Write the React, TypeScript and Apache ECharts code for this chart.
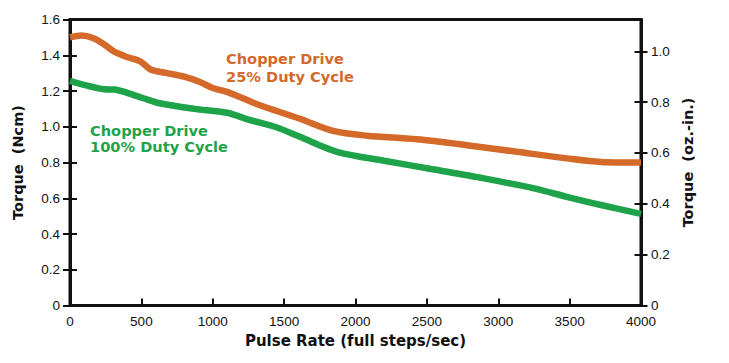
import React, { useEffect, useRef } from "react";
import * as echarts from "echarts";

const orangePulse = [0, 80, 165, 240, 310, 400, 495, 565, 680, 800, 910, 1005, 1100, 1240, 1330, 1610, 1850, 2080, 2430, 2780, 3130, 3480, 3720, 4000];
const orangeTorque = [1.5, 1.51, 1.495, 1.46, 1.42, 1.39, 1.365, 1.32, 1.3, 1.28, 1.25, 1.215, 1.195, 1.15, 1.12, 1.045, 0.975, 0.95, 0.93, 0.897, 0.86, 0.823, 0.803, 0.8];

const greenPulse = [0, 240, 310, 400, 520, 635, 870, 1100, 1250, 1450, 1610, 1870, 2200, 2550, 2900, 3250, 3480, 3720, 4000];
const greenTorque = [1.257, 1.21, 1.208, 1.19, 1.158, 1.13, 1.1, 1.078, 1.04, 0.996, 0.944, 0.86, 0.81, 0.761, 0.711, 0.655, 0.608, 0.562, 0.513];

const leftTicks = [0, 0.2, 0.4, 0.6, 0.8, 1.0, 1.2, 1.4, 1.6];
const rightTicks = [0, 0.2, 0.4, 0.6, 0.8, 1.0];
const xTicks = [0, 500, 1000, 1500, 2000, 2500, 3000, 3500, 4000];

const orangeLabel = ["Chopper Drive", "25% Duty Cycle"];
const greenLabel = ["Chopper Drive", "100% Duty Cycle"];

const ORANGE = "#d4692a";
const GREEN = "#1fa34a";
const AXIS = "#111111";
const TICK_FONT = "Liberation Sans, Arial, sans-serif";
const BOLD_FONT = "DejaVu Sans, sans-serif";

const fmt = (v: number) => (v === 0 ? "0" : v.toFixed(1));

export default function App() {
  const ref = useRef<HTMLDivElement>(null);
  useEffect(() => {
    document.body.style.margin = "0";
    if (!ref.current) return;
    const chart = echarts.init(ref.current, null, { renderer: "svg" });
    const labelStyle = { color: "#111", fontSize: 13.5, fontFamily: TICK_FONT };
    const nameStyle = { color: "#111", fontSize: 14.5, fontWeight: "bold" as const, fontFamily: BOLD_FONT };
    const yBase = (max: number, position: "left" | "right") => ({
      type: "value" as const,
      position,
      min: 0,
      max,
      splitLine: { show: false },
    });
    chart.setOption({
      animation: false,
      grid: {
        left: 70,
        right: 88,
        top: 19.5,
        bottom: 57.5,
        show: true,
        borderColor: AXIS,
        borderWidth: 3,
      },
      xAxis: [
        {
          type: "value",
          min: 0,
          max: 4000,
          interval: 500,
          name: "Pulse Rate (full steps/sec)",
          nameLocation: "middle",
          nameGap: 28,
          nameTextStyle: { ...nameStyle, fontSize: 15 },
          axisLine: { show: true, lineStyle: { color: AXIS, width: 3 } },
          axisTick: { show: true, inside: true, length: 7, lineStyle: { color: AXIS, width: 2 }, customValues: xTicks },
          axisLabel: { ...labelStyle, margin: 9, customValues: xTicks, formatter: (v: number) => String(v) },
          splitLine: { show: false },
        },
      ],
      yAxis: [
        {
          ...yBase(1.6, "left"),
          name: "Torque  (Ncm)",
          nameLocation: "middle",
          nameGap: 45,
          nameRotate: 90,
          nameTextStyle: nameStyle,
          axisLine: { show: true, lineStyle: { color: AXIS, width: 3 } },
          axisTick: { show: true, inside: false, length: 7, lineStyle: { color: AXIS, width: 2 }, customValues: leftTicks },
          axisLabel: { ...labelStyle, margin: 10, customValues: leftTicks, formatter: fmt },
        },
        {
          ...yBase(1.125, "right"),
          name: "Torque  (oz.-in.)",
          nameLocation: "middle",
          nameGap: 35,
          nameRotate: 90,
          nameTextStyle: nameStyle,
          axisLine: { show: true, lineStyle: { color: AXIS, width: 3 } },
          axisTick: { show: true, inside: false, length: 6.5, lineStyle: { color: AXIS, width: 2 }, customValues: rightTicks },
          axisLabel: { ...labelStyle, margin: 10, customValues: rightTicks, formatter: fmt },
        },
        {
          ...yBase(1.6, "left"),
          axisLine: { show: false },
          axisTick: { show: true, inside: true, length: 7, lineStyle: { color: AXIS, width: 2 }, customValues: leftTicks },
          axisLabel: { show: false },
        },
        {
          ...yBase(1.125, "right"),
          axisLine: { show: false },
          axisTick: { show: true, inside: true, length: 6.5, lineStyle: { color: AXIS, width: 2 }, customValues: rightTicks },
          axisLabel: { show: false },
        },
      ],
      series: [
        {
          type: "line",
          yAxisIndex: 0,
          data: orangePulse.map((p, i) => [p, orangeTorque[i]]),
          smooth: 0.3,
          showSymbol: false,
          lineStyle: { color: ORANGE, width: 6.5, cap: "butt" },
        },
        {
          type: "line",
          yAxisIndex: 0,
          data: greenPulse.map((p, i) => [p, greenTorque[i]]),
          smooth: 0.3,
          showSymbol: false,
          lineStyle: { color: GREEN, width: 6.5, cap: "butt" },
        },
      ],
      graphic: [
        ...orangeLabel.map((t, i) => ({
          type: "text",
          x: 226,
          y: 58.5 + i * 18.3,
          style: { text: t, fill: ORANGE, font: `bold 14.6px ${BOLD_FONT}`, verticalAlign: "middle", align: "left" },
        })),
        ...greenLabel.map((t, i) => ({
          type: "text",
          x: 90,
          y: 130 + i * 16.8,
          style: { text: t, fill: GREEN, font: `bold 14.6px ${BOLD_FONT}`, verticalAlign: "middle", align: "left" },
        })),
      ],
    });
    return () => chart.dispose();
  }, []);
  return <div ref={ref} style={{ width: 729, height: 363 }} />;
}
